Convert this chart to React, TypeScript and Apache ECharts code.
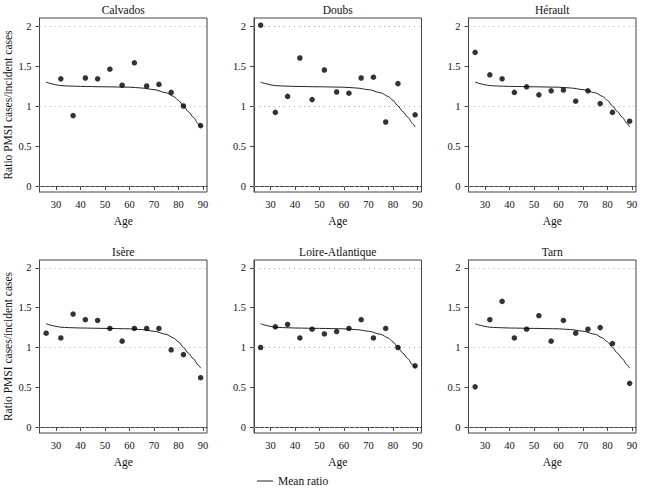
import React, { useEffect, useRef } from "react";
import * as echarts from "echarts";

const ages = [26, 32, 37, 42, 47, 52, 57, 62, 67, 72, 77, 82, 89];
const calvados = [null, 1.34, 0.88, 1.35, 1.34, 1.46, 1.26, 1.54, 1.25, 1.27, 1.17, 1.0, 0.755];
const doubs = [2.01, 0.92, 1.12, 1.6, 1.08, 1.45, 1.175, 1.16, 1.35, 1.36, 0.8, 1.28, 0.89];
const herault = [1.67, 1.39, 1.34, 1.17, 1.24, 1.14, 1.19, 1.2, 1.06, 1.19, 1.03, 0.92, 0.81];
const isere = [1.18, 1.12, 1.42, 1.35, 1.34, 1.24, 1.08, 1.24, 1.24, 1.24, 0.97, 0.91, 0.62];
const loire = [1.0, 1.26, 1.29, 1.12, 1.23, 1.17, 1.2, 1.24, 1.35, 1.12, 1.24, 1.0, 0.77];
const tarn = [0.505, 1.35, 1.58, 1.12, 1.23, 1.4, 1.08, 1.34, 1.18, 1.23, 1.25, 1.05, 0.55];

const meanAges = [26, 28, 30, 32, 35, 40, 50, 60, 65, 70, 75, 78, 80, 82, 84, 86, 88, 89];
const meanRatio = [1.3, 1.28, 1.265, 1.255, 1.25, 1.245, 1.24, 1.235, 1.225, 1.205, 1.165, 1.12, 1.07, 1.0, 0.93, 0.86, 0.78, 0.74];

const panelNames = ["Calvados", "Doubs", "Hérault", "Isère", "Loire-Atlantique", "Tarn"];
const panelValues = [calvados, doubs, herault, isere, loire, tarn];
const xTicks = [30, 40, 50, 60, 70, 80, 90];
const yTicks = [0, 0.5, 1, 1.5, 2];
const gridLines = [0, 1, 2];

const FONT = "'Liberation Serif', 'DejaVu Serif', serif";

export default function App() {
  const ref = useRef<HTMLDivElement>(null);
  useEffect(() => {
    if (!ref.current) return;
    const chart = echarts.init(ref.current, null, { renderer: "svg" });
    const lefts = [39.5, 254, 468.5];
    const tops = [18, 260];
    const W = 167.5;
    const Hs = [174, 173];
    const grids: any[] = [];
    const xAxes: any[] = [];
    const yAxes: any[] = [];
    const series: any[] = [];
    const titles: any[] = [];
    panelNames.forEach((name, i) => {
      const col = i % 3;
      const row = Math.floor(i / 3);
      grids.push({
        left: lefts[col],
        top: tops[row],
        width: W,
        height: Hs[row],
        show: true,
        borderColor: "#444",
        borderWidth: 1,
        backgroundColor: "transparent",
      });
      titles.push({
        text: name,
        left: lefts[col] + W / 2,
        top: row === 0 ? 4 : 246,
        padding: 0,
        textAlign: "center",
        textStyle: { fontFamily: FONT, fontSize: 11.5, fontWeight: "normal", color: "#111" },
      });
      xAxes.push({
        type: "value",
        gridIndex: i,
        min: 23.3,
        max: 91.6,
        name: "Age",
        nameLocation: "middle",
        nameGap: 23,
        nameTextStyle: { fontFamily: FONT, fontSize: 11.5, color: "#111", verticalAlign: "top" },
        axisLine: { show: true, lineStyle: { color: "#444", width: 1 } },
        axisTick: { show: true, length: 4, customValues: xTicks, lineStyle: { color: "#444" } },
        axisLabel: { customValues: xTicks, margin: 7, fontFamily: FONT, fontSize: 10.5, color: "#111" },
        splitLine: { show: false },
      });
      yAxes.push({
        type: "value",
        gridIndex: i,
        min: -0.075,
        max: 2.1,
        name: col === 0 ? "Ratio PMSI cases/incident cases" : "",
        nameLocation: "middle",
        nameGap: 25,
        nameTextStyle: { fontFamily: FONT, fontSize: 11.5, color: "#111" },
        axisLine: { show: true, lineStyle: { color: "#444", width: 1 } },
        axisTick: { show: true, length: 4, customValues: yTicks, lineStyle: { color: "#444" } },
        axisLabel: { customValues: yTicks, margin: 8, fontFamily: FONT, fontSize: 10.5, color: "#111" },
        splitLine: { show: false },
      });
      const vals = panelValues[i];
      const pts: number[][] = [];
      ages.forEach((a, k) => {
        if (vals[k] !== null && vals[k] !== undefined) pts.push([a, vals[k] as number]);
      });
      series.push({
        type: "line",
        name: "Mean ratio",
        xAxisIndex: i,
        yAxisIndex: i,
        data: meanAges.map((a, k) => [a, meanRatio[k]]),
        smooth: 0.3,
        smoothMonotone: "x",
        showSymbol: false,
        symbol: "none",
        lineStyle: { color: "#222", width: 1 },
        itemStyle: { color: "#222" },
        z: 3,
        markLine: {
          silent: true,
          symbol: "none",
          label: { show: false },
          lineStyle: { color: "#aaa", type: [1, 4], width: 1 },
          data: gridLines.map((g) => ({ yAxis: g })),
          z: 1,
        },
      });
      series.push({
        type: "scatter",
        name: name,
        xAxisIndex: i,
        yAxisIndex: i,
        data: pts,
        symbol: "circle",
        symbolSize: 5.5,
        itemStyle: { color: "#000" },
        z: 4,
      });
    });
    chart.setOption({
      animation: false,
      backgroundColor: "#fff",
      title: titles,
      grid: grids,
      xAxis: xAxes,
      yAxis: yAxes,
      series,
      legend: {
        data: ["Mean ratio"],
        left: 252,
        top: 470,
        padding: 5,
        icon: "rect",
        itemWidth: 16,
        itemHeight: 1,
        itemGap: 6,
        textStyle: { fontFamily: FONT, fontSize: 11.5, color: "#111" },
      },
    });
    return () => chart.dispose();
  }, []);
  return (
    <div
      ref={ref}
      style={{ position: "fixed", left: 0, top: 0, width: 647, height: 491 }}
    />
  );
}
